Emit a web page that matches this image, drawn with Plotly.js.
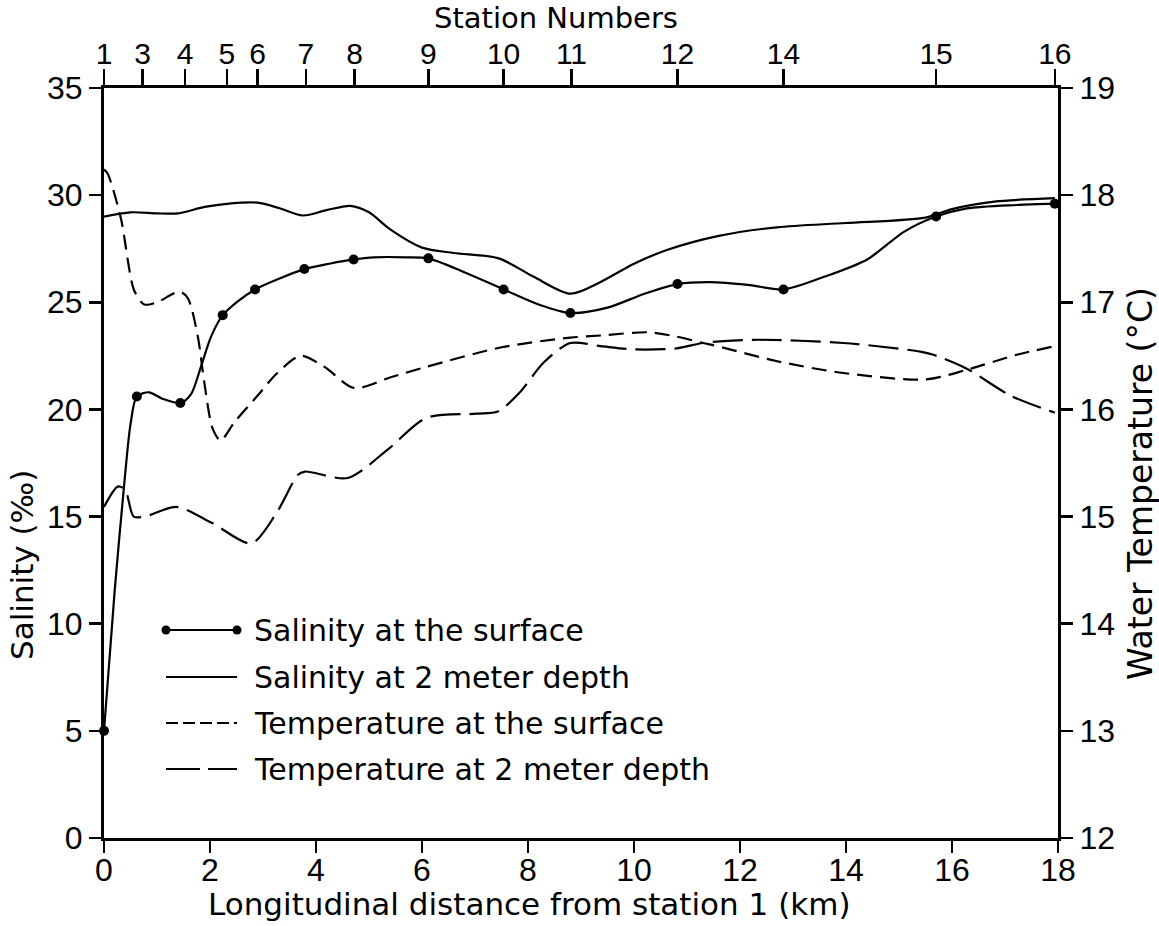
<!DOCTYPE html>
<html>
<head>
<meta charset="utf-8">
<script src="https://cdn.plot.ly/plotly-3.0.1.min.js"></script>
<style>
  html, body { margin: 0; padding: 0; background: #fff; }
  #chart { width: 1159px; height: 926px; }
</style>
</head>
<body>
<div id="chart"></div>
<script>
// ---------- DATA ----------
// Station positions along the estuary (km from station 1) and their labels (top axis)
const stationKm = [0, 0.73, 1.53, 2.32, 2.90, 3.81, 4.73, 6.12, 7.54, 8.82, 10.82, 12.82, 15.70, 17.94];
const stationLabels = ['1', '3', '4', '5', '6', '7', '8', '9', '10', '11', '12', '14', '15', '16'];

// Bottom axis ticks
const distanceTicks = [0, 2, 4, 6, 8, 10, 12, 14, 16, 18];

// Salinity at the surface: measured values at stations (dots)
const salSurfaceDotKm = [0, 0.62, 1.44, 2.24, 2.85, 3.78, 4.71, 6.12, 7.54, 8.80, 10.82, 12.82, 15.70, 17.94];
const salSurfaceDot   = [5.0, 20.6, 20.3, 24.4, 25.6, 26.55, 27.0, 27.05, 25.6, 24.5, 25.85, 25.6, 29.0, 29.6];

// Salinity at the surface: drawn curve (‰)
const salSurfaceKm = [0, 0.2, 0.4, 0.5, 0.62, 0.85, 1.1, 1.44, 1.64, 1.83, 2.02, 2.24, 2.5, 2.85, 3.3, 3.78, 4.25, 4.71, 5.1, 5.7, 6.12, 6.8, 7.54, 8.2, 8.8, 9.5, 10.2, 10.82, 11.44, 12.19, 12.82, 13.6, 14.4, 15.1, 15.7, 16.28, 17.22, 17.94];
const salSurface   = [5.0, 11.5, 17.0, 19.3, 20.6, 20.8, 20.5, 20.3, 20.7, 22.0, 23.4, 24.4, 25.0, 25.6, 26.1, 26.55, 26.8, 27.0, 27.1, 27.1, 27.05, 26.4, 25.6, 24.9, 24.5, 24.75, 25.4, 25.85, 25.94, 25.8, 25.6, 26.2, 27.0, 28.3, 29.0, 29.38, 29.54, 29.6];

// Salinity at 2 meter depth (‰)
const salDeepKm = [0, 0.5, 1.0, 1.4, 1.9, 2.4, 2.9, 3.3, 3.75, 4.2, 4.65, 5.0, 5.4, 6.0, 6.6, 7.45, 8.1, 8.8, 9.37, 10.0, 10.62, 11.6, 12.7, 14.0, 15.5, 16.0, 16.8, 17.94];
const salDeep   = [29.0, 29.2, 29.15, 29.15, 29.45, 29.62, 29.65, 29.4, 29.05, 29.3, 29.5, 29.2, 28.4, 27.55, 27.3, 27.05, 26.2, 25.4, 25.95, 26.8, 27.44, 28.1, 28.5, 28.7, 28.95, 29.35, 29.7, 29.86];

// Temperature at the surface (°C)
const tempSurfaceKm = [0, 0.07, 0.32, 0.57, 0.76, 1.0, 1.42, 1.58, 1.77, 1.89, 2.05, 2.2, 2.46, 2.9, 3.27, 3.71, 4.15, 4.72, 5.41, 6.1, 7.5, 8.8, 9.37, 10.27, 10.8, 11.3, 11.57, 12.7, 13.95, 15.5, 16.28, 17.22, 17.94];
const tempSurface   = [18.24, 18.2, 17.78, 17.11, 16.98, 17.0, 17.1, 17.04, 16.68, 16.26, 15.82, 15.71, 15.88, 16.13, 16.34, 16.5, 16.4, 16.2, 16.3, 16.4, 16.58, 16.67, 16.69, 16.72, 16.68, 16.62, 16.59, 16.45, 16.34, 16.28, 16.37, 16.51, 16.59];

// Temperature at 2 meter depth (°C)
const tempDeepKm = [0, 0.26, 0.40, 0.56, 0.77, 1.37, 2.04, 2.78, 3.25, 3.66, 3.79, 4.6, 5.34, 6.08, 7.02, 7.43, 7.83, 8.3, 8.8, 9.37, 10.0, 10.8, 11.3, 12.25, 13.95, 15.4, 15.65, 16.28, 17.1, 17.94];
const tempDeep   = [15.09, 15.28, 15.25, 15.0, 15.0, 15.09, 14.94, 14.75, 15.03, 15.39, 15.42, 15.36, 15.62, 15.92, 15.96, 15.98, 16.15, 16.44, 16.62, 16.59, 16.56, 16.57, 16.62, 16.65, 16.62, 16.54, 16.51, 16.38, 16.13, 15.97];

// Legend entries
const legendLabels = ['Salinity at the surface', 'Salinity at 2 meter depth', 'Temperature at the surface', 'Temperature at 2 meter depth'];

// ---------- STYLE ----------
const INK = '#000';
const TICKFONT = { family: 'Liberation Sans, Arial, sans-serif', size: 32, color: INK };
const TOPTICKFONT = { family: 'Liberation Sans, Arial, sans-serif', size: 30, color: INK };
const TEXTFONT = { family: 'DejaVu Sans, sans-serif', size: 30, color: INK };
const titleFont = s => ({ family: 'DejaVu Sans, sans-serif', size: s, color: INK });
const DASH_SURF = '15px,8px';
const DASH_DEEP = '30px,9px';

const traces = [
  { x: salSurfaceKm, y: salSurface, type: 'scatter', mode: 'lines',
    line: { color: INK, width: 2.2, shape: 'spline', smoothing: 0.8 }, hoverinfo: 'skip' },
  { x: salDeepKm, y: salDeep, type: 'scatter', mode: 'lines',
    line: { color: INK, width: 2.2, shape: 'spline', smoothing: 0.8 }, hoverinfo: 'skip' },
  { x: tempSurfaceKm, y: tempSurface, type: 'scatter', mode: 'lines', yaxis: 'y2',
    line: { color: INK, width: 2.2, shape: 'spline', smoothing: 0.8, dash: DASH_SURF }, hoverinfo: 'skip' },
  { x: tempDeepKm, y: tempDeep, type: 'scatter', mode: 'lines', yaxis: 'y2',
    line: { color: INK, width: 2.2, shape: 'spline', smoothing: 0.8, dash: DASH_DEEP }, hoverinfo: 'skip' },
  { x: salSurfaceDotKm, y: salSurfaceDot, type: 'scatter', mode: 'markers', xaxis: 'x2',
    marker: { color: INK, size: 10 }, hoverinfo: 'skip', cliponaxis: false }
];

// ---------- LEGEND (drawn inside plot) ----------
const L = 104, R = 1058, T = 88, B = 838;
const px = v => (v - L) / (R - L);
const py = v => (B - v) / (B - T);
const rowsY = [630, 677, 723, 769];
const symX0 = px(166), symX1 = px(237), txtX = px(252);
const shapes = [];
const annotations = [];
rowsY.forEach((ry, i) => {
  const line = { color: INK, width: 2.2 };
  if (i === 2) line.dash = '12px,5px';
  if (i === 3) line.dash = '34px,8px';
  shapes.push({ type: 'line', xref: 'paper', yref: 'paper', x0: symX0, x1: symX1, y0: py(ry), y1: py(ry), line });
  annotations.push({ xref: 'paper', yref: 'paper', x: txtX, y: py(ry), xanchor: 'left', yanchor: 'middle',
    text: legendLabels[i], showarrow: false, font: TEXTFONT });
});
[symX0, symX1].forEach(xx => {
  shapes.push({ type: 'circle', xref: 'paper', yref: 'paper', xsizemode: 'pixel', ysizemode: 'pixel',
    xanchor: xx, yanchor: py(rowsY[0]), x0: -4.5, x1: 4.5, y0: -4.5, y1: 4.5,
    fillcolor: INK, line: { color: INK, width: 0 } });
});

// Axis titles as annotations (placed like the original)
annotations.push({ xref: 'paper', yref: 'paper', x: px(529), y: py(904), xanchor: 'center', yanchor: 'middle',
  text: 'Longitudinal distance from station 1 (km)', showarrow: false, font: titleFont(31) });
annotations.push({ xref: 'paper', yref: 'paper', x: px(556), y: py(18), xanchor: 'center', yanchor: 'middle',
  text: 'Station Numbers', showarrow: false, font: titleFont(29) });
annotations.push({ xref: 'paper', yref: 'paper', x: px(22), y: py(565), xanchor: 'center', yanchor: 'middle',
  text: 'Salinity (‰)', textangle: -90, showarrow: false, font: titleFont(31) });
annotations.push({ xref: 'paper', yref: 'paper', x: px(1140), y: py(484), xanchor: 'center', yanchor: 'middle',
  text: 'Water Temperature (°C)', textangle: -90, showarrow: false, font: titleFont(33) });

const axisCommon = {
  showgrid: false, zeroline: false, showline: true, linecolor: INK, linewidth: 3,
  ticks: 'outside', tickcolor: INK, tickwidth: 2.5, ticklen: 12, tickfont: TICKFONT, fixedrange: true
};

const layout = {
  width: 1159, height: 926,
  margin: { l: L, r: 1159 - R, t: T, b: 926 - B, pad: 0 },
  paper_bgcolor: '#fff', plot_bgcolor: '#fff',
  showlegend: false,
  xaxis: Object.assign({}, axisCommon, { range: [0, 18], tickvals: distanceTicks, anchor: 'y', ticklabelstandoff: -10 }),
  xaxis2: Object.assign({}, axisCommon, { range: [0, 18], overlaying: 'x', side: 'top', anchor: 'y',
    tickvals: stationKm, ticktext: stationLabels, ticklen: 16, ticklabelstandoff: -7, tickfont: TOPTICKFONT }),
  yaxis: Object.assign({}, axisCommon, { range: [0, 35], dtick: 5, tick0: 0 }),
  yaxis2: Object.assign({}, axisCommon, { range: [12, 19], dtick: 1, tick0: 12, overlaying: 'y', side: 'right', anchor: 'x' }),
  shapes, annotations
};

Plotly.newPlot('chart', traces, layout, { staticPlot: true, displayModeBar: false });
</script>
</body>
</html>
